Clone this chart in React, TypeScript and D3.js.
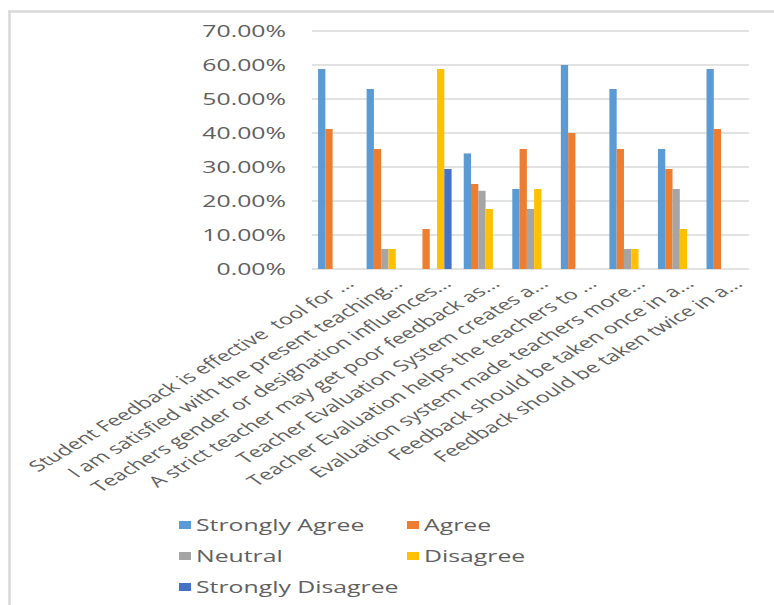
import React from "react";
import * as d3 from "d3";

// Survey responses per statement (share of respondents)
const categories = [
  "Student Feedback is effective  tool for ...",
  "I am satisfied with the present teaching...",
  "Teachers gender or designation influences...",
  "A strict teacher may get poor feedback as...",
  "Teacher Evaluation System creates a...",
  "Teacher Evaluation helps the teachers to ...",
  "Evaluation system made teachers more...",
  "Feedback should be taken once in a...",
  "Feedback should be taken twice in a...",
];

const seriesNames = ["Strongly Agree", "Agree", "Neutral", "Disagree", "Strongly Disagree"];

const stronglyAgree = [0.5882, 0.5294, 0, 0.34, 0.2353, 0.6, 0.5294, 0.3529, 0.5882];
const agree = [0.4118, 0.3529, 0.1176, 0.25, 0.3529, 0.4, 0.3529, 0.2941, 0.4118];
const neutral = [0, 0.0588, 0, 0.23, 0.1765, 0, 0.0588, 0.2353, 0];
const disagree = [0, 0.0588, 0.5882, 0.1765, 0.2353, 0, 0.0588, 0.1176, 0];
const stronglyDisagree = [0, 0, 0.2941, 0, 0, 0, 0, 0, 0];

const seriesValues = [stronglyAgree, agree, neutral, disagree, stronglyDisagree];
const seriesColors = ["#5B9BD5", "#ED7D31", "#A5A5A5", "#FFC000", "#4472C4"];

const yTicks = [0, 0.1, 0.2, 0.3, 0.4, 0.5, 0.6, 0.7];

const W = 774;
const H = 605;
const plot = { left: 312, right: 749, top: 31, bottom: 269 };
const textColor = "#5f5f5f";
const gridColor = "#D9D9D9";
const font = "'Open Sans', 'Noto Sans', sans-serif";
const sx = 1.55; // horizontal text stretch

export default function App() {
  const x0 = d3.scaleBand<string>().domain(categories).range([plot.left, plot.right]);
  const bw = x0.bandwidth();
  const gap = bw * 0.25;
  const x1 = d3
    .scaleBand<string>()
    .domain(seriesNames)
    .range([gap / 2, bw - gap / 2]);
  const y = d3.scaleLinear().domain([0, 0.7]).range([plot.bottom, plot.top]);
  const fmt = d3.format(".2%");

  const legendItems = [
    { name: seriesNames[0], color: seriesColors[0], col: 0, row: 0 },
    { name: seriesNames[1], color: seriesColors[1], col: 1, row: 0 },
    { name: seriesNames[2], color: seriesColors[2], col: 0, row: 1 },
    { name: seriesNames[3], color: seriesColors[3], col: 1, row: 1 },
    { name: seriesNames[4], color: seriesColors[4], col: 0, row: 2 },
  ];
  const legendCols = [179, 407];
  const legendRows = [525, 556, 587];

  return (
    <svg
      width={W}
      height={H}
      style={{ position: "absolute", left: 0, top: 0, background: "#fff" }}
      fontFamily={font}
    >
      <rect x={0} y={0} width={W} height={H} fill="#fff" />
      {/* chart frame */}
      <line x1={8} x2={W} y1={11.5} y2={11.5} stroke={gridColor} strokeWidth={2.5} />
      <line x1={9.5} x2={9.5} y1={10.5} y2={H} stroke={gridColor} strokeWidth={2.5} />

      {/* gridlines and value axis */}
      {yTicks.map((t) => (
        <g key={t}>
          <line
            x1={plot.left}
            x2={plot.right}
            y1={y(t)}
            y2={y(t)}
            stroke={gridColor}
            strokeWidth={1.3}
          />
          <text
            transform={`translate(286,${y(t) + 5.5}) scale(${sx},1)`}
            textAnchor="end"
            fontSize={16}
            fill={textColor}
          >
            {fmt(t)}
          </text>
        </g>
      ))}

      {/* bars */}
      {categories.map((c, i) => (
        <g key={c} transform={`translate(${x0(c)},0)`}>
          {seriesNames.map((s, k) => {
            const v = seriesValues[k][i];
            if (!v) return null;
            return (
              <rect
                key={s}
                x={x1(s)}
                y={y(v)}
                width={x1.bandwidth()}
                height={y(0) - y(v)}
                fill={seriesColors[k]}
              />
            );
          })}
        </g>
      ))}

      {/* category labels */}
      {categories.map((c) => {
        const cx = (x0(c) as number) + bw / 2;
        return (
          <text
            key={c}
            transform={`translate(${cx + 19},285) scale(${sx},1) rotate(-42.5)`}
            textAnchor="end"
            fontSize={15}
            fill={textColor}
            style={{ whiteSpace: "pre" }}
          >
            {c}
          </text>
        );
      })}

      {/* legend */}
      {legendItems.map((it) => (
        <g key={it.name}>
          <rect
            x={legendCols[it.col]}
            y={legendRows[it.row] - 4}
            width={12}
            height={8}
            fill={it.color}
          />
          <text
            transform={`translate(${legendCols[it.col] + 17},${legendRows[it.row] + 5.5}) scale(${sx},1)`}
            fontSize={16}
            fill={textColor}
          >
            {it.name}
          </text>
        </g>
      ))}
    </svg>
  );
}
